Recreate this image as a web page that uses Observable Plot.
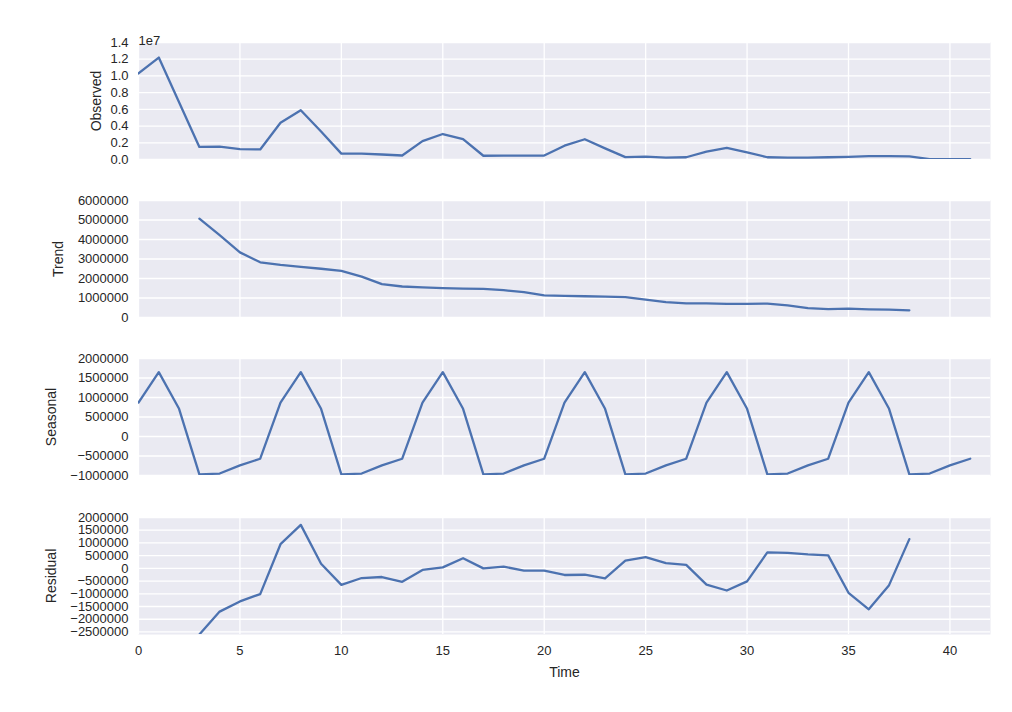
<!DOCTYPE html>
<html>
<head>
<meta charset="utf-8">
<script src="https://cdn.jsdelivr.net/npm/d3@7"></script>
<script src="https://cdn.jsdelivr.net/npm/@observablehq/plot@0.6"></script>
<style>
  html, body { margin: 0; padding: 0; background: #fff; }
  #wrap { position: relative; width: 1012px; height: 712px; font-family: "Liberation Sans", Arial, sans-serif; }
  #wrap svg { position: absolute; left: 0; }
</style>
</head>
<body>
<div id="wrap"></div>
<script>
const time = [0,1,2,3,4,5,6,7,8,9,10,11,12,13,14,15,16,17,18,19,20,21,22,23,24,25,26,27,28,29,30,31,32,33,34,35,36,37,38,39,40,41];

const observed = [10300000,12200000,6850000,1500000,1550000,1250000,1200000,4400000,5900000,3350000,700000,700000,600000,480000,2200000,3050000,2450000,450000,470000,460000,470000,1650000,2420000,1330000,280000,350000,220000,270000,930000,1380000,850000,270000,220000,220000,270000,310000,400000,400000,380000,50000,50000,50000];

const trend = [null,null,null,5070000,4220000,3340000,2830000,2700000,2600000,2500000,2390000,2100000,1710000,1590000,1550000,1510000,1480000,1470000,1400000,1300000,1130000,1110000,1090000,1070000,1050000,920000,790000,720000,720000,700000,700000,710000,620000,480000,430000,450000,420000,400000,370000,null,null,null];

const seasonal = [870000,1650000,710000,-970000,-950000,-740000,-570000,870000,1650000,710000,-970000,-950000,-740000,-570000,870000,1650000,710000,-970000,-950000,-740000,-570000,870000,1650000,710000,-970000,-950000,-740000,-570000,870000,1650000,710000,-970000,-950000,-740000,-570000,870000,1650000,710000,-970000,-950000,-740000,-570000];

const residual = [null,null,null,-2600000,-1700000,-1300000,-1010000,950000,1710000,180000,-650000,-380000,-340000,-530000,-60000,40000,400000,0,70000,-90000,-90000,-260000,-250000,-390000,300000,440000,210000,140000,-640000,-870000,-510000,630000,610000,550000,510000,-960000,-1610000,-660000,1150000,null,null,null];

const xTicks = [0,5,10,15,20,25,30,35,40];
const observedTicks = [0,2000000,4000000,6000000,8000000,10000000,12000000,14000000];
const trendTicks = [0,1000000,2000000,3000000,4000000,5000000,6000000];
const seasonalTicks = [-1000000,-500000,0,500000,1000000,1500000,2000000];
const residualTicks = [-2500000,-2000000,-1500000,-1000000,-500000,0,500000,1000000,1500000,2000000];

const panels = [
  {name: "Observed", values: observed, domain: [0, 14000000], ticks: observedTicks, fmt: d => (d / 1e7).toFixed(1), top: 42, labelDx: -42, offset: "1e7"},
  {name: "Trend", values: trend, domain: [0, 6000000], ticks: trendTicks, top: 200, labelDx: -80},
  {name: "Seasonal", values: seasonal, domain: [-1000000, 2000000], ticks: seasonalTicks, top: 358, labelDx: -87},
  {name: "Residual", values: residual, domain: [-2600000, 2000000], ticks: residualTicks, top: 517, labelDx: -87, last: true}
];

const intFmt = d => d < 0 ? "\u2212" + Math.abs(d) : String(d);
const blue = "#4C72B0";
const bg = "#EAEAF2";
const ink = "#262626";
const wrap = document.getElementById("wrap");

for (const p of panels) {
  const mt = 30;
  const fh = 117;
  const mb = p.last ? 70 : 10;
  const data = time.map((t, i) => ({t, v: p.values[i]}));
  const marks = [
    Plot.frame({fill: bg, stroke: null}),
    Plot.gridX(xTicks, {stroke: "#fff", strokeOpacity: 1, strokeWidth: 1.3}),
    Plot.gridY(p.ticks, {stroke: "#fff", strokeOpacity: 1, strokeWidth: 1.3}),
    Plot.axisY(p.ticks, {tickSize: 0, tickPadding: 10, tickFormat: p.fmt || intFmt, fontSize: 13, fill: ink, label: null}),
    Plot.line(data, {x: "t", y: "v", stroke: blue, strokeWidth: 2.3, clip: true}),
    Plot.text([p.name], {frameAnchor: "left", textAnchor: "middle", dx: p.labelDx, rotate: -90, fontSize: 14, fill: ink, text: d => d})
  ];
  if (p.last) {
    marks.push(Plot.axisX(xTicks, {tickSize: 0, tickPadding: 11, fontSize: 13, fill: ink, label: null, tickFormat: d => String(d)}));
    marks.push(Plot.text(["Time"], {frameAnchor: "bottom", dy: 42, fontSize: 14, fill: ink, text: d => d}));
  } else {
    marks.push(Plot.axisX({ticks: [], label: null}));
  }
  if (p.offset) {
    marks.push(Plot.text([p.offset], {frameAnchor: "top-left", dy: -7, dx: 0, textAnchor: "start", fontSize: 13, fill: ink, text: d => d}));
  }
  const chart = Plot.plot({
    width: 1012,
    height: mt + fh + mb,
    marginTop: mt,
    marginBottom: mb,
    marginLeft: 138,
    marginRight: 22,
    style: {fontFamily: "'Liberation Sans', Arial, sans-serif", background: "transparent", overflow: "visible"},
    x: {domain: [0, 42], axis: null},
    y: {domain: p.domain, axis: null},
    marks
  });
  chart.style.top = (p.top - mt) + "px";
  wrap.appendChild(chart);
}
</script>
</body>
</html>
